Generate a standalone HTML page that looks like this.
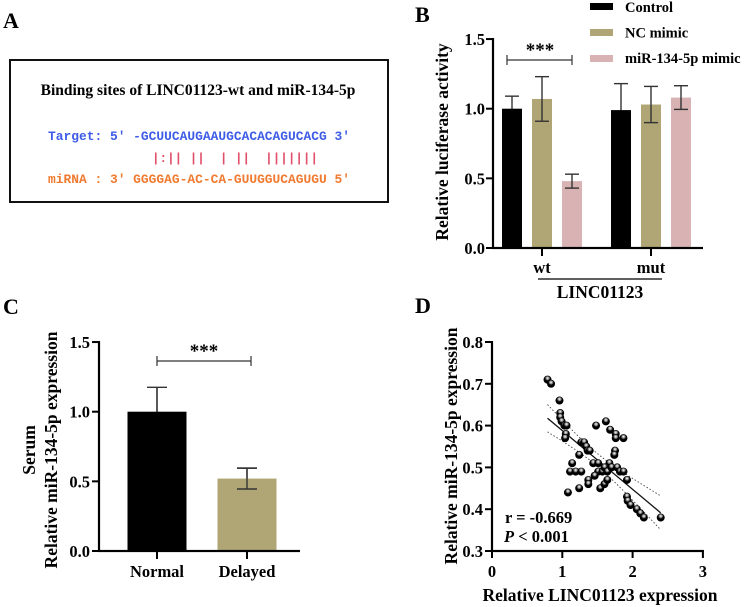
<!DOCTYPE html>
<html><head><meta charset="utf-8"><style>
html,body{margin:0;padding:0;background:#fff;}
svg{display:block;font-family:"Liberation Serif",serif;font-weight:bold;}
</style></head><body>
<svg id="fig" width="744" height="607" viewBox="0 0 744 607" xmlns="http://www.w3.org/2000/svg">
<defs>
<radialGradient id="ball" cx="0.5" cy="0.3" r="0.6">
<stop offset="0" stop-color="#fff"/><stop offset="0.35" stop-color="#888"/><stop offset="0.6" stop-color="#000"/><stop offset="1" stop-color="#000"/>
</radialGradient>
</defs>
<g>
<text x="3" y="28" font-size="22">A</text>
<rect x="10" y="60" width="378" height="142" fill="none" stroke="#111" stroke-width="2"/>
<text x="198" y="95" font-size="15.5" text-anchor="middle">Binding sites of LINC01123-wt and miR-134-5p</text>
<text x="48" y="140" font-size="12.5" fill="#3e5ce6" font-family="Liberation Mono,monospace" font-weight="bold" textLength="302" lengthAdjust="spacingAndGlyphs" xml:space="preserve">Target: 5' -GCUUCAUGAAUGCACACAGUCACG 3'</text>
<text x="152" y="162" font-size="12.5" fill="#e0506a" font-family="Liberation Mono,monospace" font-weight="bold" textLength="166" lengthAdjust="spacingAndGlyphs" xml:space="preserve">|:|| ||  | ||  |||||||</text>
<text x="48" y="183" font-size="12.5" fill="#f07a30" font-family="Liberation Mono,monospace" font-weight="bold" textLength="302" lengthAdjust="spacingAndGlyphs" xml:space="preserve">miRNA : 3' GGGGAG-AC-CA-GUUGGUCAGUGU 5'</text>
</g>
<g id="pb"></g>
<g id="pc"></g>
<g id="pd"></g>
</svg>
<script>
// ---- Panel B data ----
const bGroups = ["wt", "mut"];
const bSeries = ["Control", "NC mimic", "miR-134-5p mimic"];
const bColors = ["#000000", "#b0a675", "#d9b3b3"];
const bValues = [[1.00, 1.07, 0.48], [0.99, 1.03, 1.08]];
const bErrors = [[0.09, 0.16, 0.05], [0.19, 0.13, 0.085]];
const bTicks = [0.0, 0.5, 1.0, 1.5];
// ---- Panel C data ----
const cCategories = ["Normal", "Delayed"];
const cValues = [1.00, 0.52];
const cErrors = [0.175, 0.075];
const cColors = ["#000000", "#b0a675"];
const cTicks = [0.0, 0.5, 1.0, 1.5];
// ---- Panel D data ----
const dX = [0.79,0.84,0.96,0.97,0.97,0.99,1.03,1.06,1.05,1.04,1.48,1.62,1.68,1.76,1.76,1.87,1.27,1.31,1.34,1.36,1.39,1.24,1.75,1.74,1.14,1.44,1.51,1.67,1.11,1.19,1.27,1.51,1.57,1.60,1.64,1.70,1.78,1.82,1.87,1.46,1.08,1.24,1.37,1.37,1.54,1.60,1.64,1.92,1.92,1.93,1.97,2.06,2.11,2.16,2.40];
const dY = [0.71,0.70,0.66,0.63,0.62,0.61,0.60,0.60,0.58,0.57,0.60,0.61,0.59,0.58,0.57,0.57,0.56,0.56,0.55,0.54,0.54,0.53,0.54,0.53,0.51,0.51,0.51,0.51,0.49,0.49,0.49,0.49,0.49,0.50,0.49,0.50,0.50,0.49,0.49,0.48,0.44,0.45,0.47,0.46,0.45,0.46,0.47,0.47,0.43,0.42,0.41,0.40,0.39,0.38,0.38];
const dXTicks = [0, 1, 2, 3];
const dYTicks = [0.3, 0.4, 0.5, 0.6, 0.7, 0.8];
const dStats = ["r = -0.669", "< 0.001"];

const NS = "http://www.w3.org/2000/svg";
const TICK = 16.5, TITLE = 17.5;
function mk(parent, tag, attrs, text) {
  const e = document.createElementNS(NS, tag);
  for (const k in attrs) e.setAttribute(k, attrs[k]);
  if (text !== undefined) e.textContent = text;
  parent.appendChild(e);
  return e;
}
function hbar(g, x1, x2, y, w) { return mk(g, "rect", {x: x1, y: y - w / 2, width: x2 - x1, height: w, fill: "#000"}); }
function vbar(g, x, y1, y2, w) { return mk(g, "rect", {x: x - w / 2, y: y1, width: w, height: y2 - y1, fill: "#000"}); }
function errBar(g, x, yTop, yBot, w) {
  mk(g, "line", {x1: x, x2: x, y1: yTop, y2: yBot, stroke: "#333", "stroke-width": 1.4});
  mk(g, "line", {x1: x - w, x2: x + w, y1: yTop, y2: yTop, stroke: "#333", "stroke-width": 1.4});
  mk(g, "line", {x1: x - w, x2: x + w, y1: yBot, y2: yBot, stroke: "#333", "stroke-width": 1.4});
}

// ===== Panel B =====
(function () {
  const g = document.getElementById("pb");
  const y = v => 248 - v * 139.3;
  const gx = [542, 651];
  const off = [-30, 0, 30];
  let t = mk(g, "text", {x: 415, y: 22, "font-size": 22}, "B");
  
  
  bGroups.forEach((grp, gi) => {
    bSeries.forEach((s, si) => {
      const cx = gx[gi] + off[si], v = bValues[gi][si], e = bErrors[gi][si];
      if (si === 0) errBar(g, cx, y(v + e), y(v - e), 7);
      const r = mk(g, "rect", {x: cx - 10, y: y(v), width: 20, height: y(0) - y(v), fill: bColors[si]});
      
      
      if (si !== 0) errBar(g, cx, y(v + e), y(v - e), 7);
    });
    vbar(g, gx[gi], 248, 256, 2);
    const l = mk(g, "text", {x: gx[gi], y: 273, "font-size": TICK, "text-anchor": "middle"}, grp);
    
    
  });
  bTicks.forEach(v => {
    hbar(g, 486, 493, y(v), 2);
    const l = mk(g, "text", {x: 485, y: y(v) + 6, "font-size": TICK, "text-anchor": "end"}, v.toFixed(1));
    
    
  });
  vbar(g, 493, y(1.5) - 1, 249, 2.2);
  hbar(g, 492, 703, 248, 2.2);
  mk(g, "line", {x1: 538, x2: 662, y1: 279, y2: 279, stroke: "#000", "stroke-width": 1.3});
  t = mk(g, "text", {x: 600, y: 298, "font-size": TITLE, "text-anchor": "middle"}, "LINC01123");
  
  
  t = mk(g, "text", {x: 0, y: 0, "font-size": TITLE, "text-anchor": "middle", transform: "translate(448,142) rotate(-90)"}, "Relative luciferase activity");
  
  
  mk(g, "line", {x1: 507, x2: 572, y1: 60, y2: 60, stroke: "#333", "stroke-width": 1.2});
  mk(g, "line", {x1: 507, x2: 507, y1: 55, y2: 65, stroke: "#333", "stroke-width": 1.2});
  mk(g, "line", {x1: 572, x2: 572, y1: 55, y2: 65, stroke: "#333", "stroke-width": 1.2});
  t = mk(g, "text", {x: 540, y: 56, "font-size": 19, "text-anchor": "middle"}, "***");
  
  
  bSeries.forEach((s, i) => {
    const lg = mk(g, "g", {});
    
    
    mk(lg, "rect", {x: 590, y: 3 + i * 26, width: 23, height: 7, fill: bColors[i]});
    mk(lg, "text", {x: 625, y: 12 + i * 25.5, "font-size": 14.5}, s);
  });
})();

// ===== Panel C =====
(function () {
  const g = document.getElementById("pc");
  const y = v => 551 - v * 139.3;
  const cx = [157, 247];
  let t = mk(g, "text", {x: 3, y: 314, "font-size": 22}, "C");
  
  
  cCategories.forEach((c, i) => {
    const v = cValues[i], e = cErrors[i];
    errBar(g, cx[i], y(v + e), y(v - e), 10);
    const r = mk(g, "rect", {x: cx[i] - 29.5, y: y(v), width: 59, height: y(0) - y(v), fill: cColors[i]});
    
    
    if (i === 1) errBar(g, cx[i], y(v + e), y(v - e), 10);
    else mk(g, "line", {x1: cx[i], x2: cx[i], y1: y(v + e), y2: y(v), stroke: "#333", "stroke-width": 1.4});
    vbar(g, cx[i], 551, 559, 2);
    const l = mk(g, "text", {x: cx[i], y: 577, "font-size": TICK, "text-anchor": "middle"}, c);
    
    
  });
  cTicks.forEach(v => {
    hbar(g, 92, 99, y(v), 2);
    const l = mk(g, "text", {x: 90, y: y(v) + 6, "font-size": TICK, "text-anchor": "end"}, v.toFixed(1));
    
    
  });
  vbar(g, 99, y(1.5) - 1, 552, 2.2);
  hbar(g, 98, 300, 551, 2.2);
  t = mk(g, "text", {x: 0, y: 0, "font-size": TITLE, "text-anchor": "middle", transform: "translate(35,450) rotate(-90)"}, "Serum");
  
  
  t = mk(g, "text", {x: 0, y: 0, "font-size": TITLE, "text-anchor": "middle", transform: "translate(57,450) rotate(-90)"}, "Relative miR-134-5p expression");
  
  
  mk(g, "line", {x1: 157, x2: 251, y1: 361, y2: 361, stroke: "#333", "stroke-width": 1.2});
  mk(g, "line", {x1: 157, x2: 157, y1: 356, y2: 366, stroke: "#333", "stroke-width": 1.2});
  mk(g, "line", {x1: 251, x2: 251, y1: 356, y2: 366, stroke: "#333", "stroke-width": 1.2});
  t = mk(g, "text", {x: 204, y: 357, "font-size": 19, "text-anchor": "middle"}, "***");
  
  
})();

// ===== Panel D =====
(function () {
  const g = document.getElementById("pd");
  const X = v => 492 + v * 70.3;
  const Y = v => 551 - (v - 0.3) * 418;
  let t = mk(g, "text", {x: 415, y: 313, "font-size": 22}, "D");
  
  
  dYTicks.forEach(v => {
    hbar(g, 485, 492, Y(v), 2);
    const l = mk(g, "text", {x: 483, y: Y(v) + 6, "font-size": TICK, "text-anchor": "end"}, v.toFixed(1));
    
    
  });
  dXTicks.forEach(v => {
    vbar(g, X(v), 551, 558, 2);
    const l = mk(g, "text", {x: X(v), y: 577, "font-size": TICK, "text-anchor": "middle"}, String(v));
    
    
  });
  vbar(g, 492, Y(0.8) - 1, 552, 2.2);
  hbar(g, 491, X(3) + 1, 551, 2.2);
  const n = dX.length;
  const mx = dX.reduce((a, b) => a + b, 0) / n, my = dY.reduce((a, b) => a + b, 0) / n;
  let sxx = 0, sxy = 0;
  for (let i = 0; i < n; i++) { sxx += (dX[i] - mx) ** 2; sxy += (dX[i] - mx) * (dY[i] - my); }
  const b = sxy / sxx, a = my - b * mx;
  let sse = 0;
  for (let i = 0; i < n; i++) sse += (dY[i] - a - b * dX[i]) ** 2;
  const s = Math.sqrt(sse / (n - 2));
  const xmin = Math.min(...dX), xmax = Math.max(...dX);
  const band = (sign) => {
    let p = "";
    for (let k = 0; k <= 30; k++) {
      const xv = xmin + (xmax - xmin) * k / 30;
      const se = s * Math.sqrt(1 / n + (xv - mx) ** 2 / sxx);
      p += (k ? "L" : "M") + X(xv).toFixed(1) + "," + Y(a + b * xv + sign * 2.0 * se).toFixed(1);
    }
    return p;
  };
  const up = mk(g, "path", {d: band(1), fill: "none", stroke: "#444", "stroke-width": 0.9, "stroke-dasharray": "1.5,2"});
  
  
  const lo = mk(g, "path", {d: band(-1), fill: "none", stroke: "#444", "stroke-width": 0.9, "stroke-dasharray": "1.5,2"});
  
  
  const rl = mk(g, "line", {x1: X(xmin), y1: Y(a + b * xmin), x2: X(xmax), y2: Y(a + b * xmax), stroke: "#111", "stroke-width": 1.3});
  
  
  for (let i = 0; i < n; i++) {
    const c = mk(g, "circle", {cx: X(dX[i]), cy: Y(dY[i]), r: 3.7, fill: "url(#ball)", stroke: "#000", "stroke-width": 0.6});
    
    
  }
  t = mk(g, "text", {x: 505, y: 523, "font-size": TICK}, dStats[0]);
  
  
  t = mk(g, "text", {x: 504, y: 542, "font-size": TICK});
  
  
  mk(t, "tspan", {"font-style": "italic"}, "P");
  mk(t, "tspan", {}, " " + dStats[1]);
  t = mk(g, "text", {x: 0, y: 0, "font-size": TITLE, "text-anchor": "middle", transform: "translate(457,446) rotate(-90)"}, "Relative miR-134-5p expression");
  
  
  t = mk(g, "text", {x: 600, y: 601, "font-size": TITLE, "text-anchor": "middle"}, "Relative LINC01123 expression");
  
  
})();
</script>
</body></html>
